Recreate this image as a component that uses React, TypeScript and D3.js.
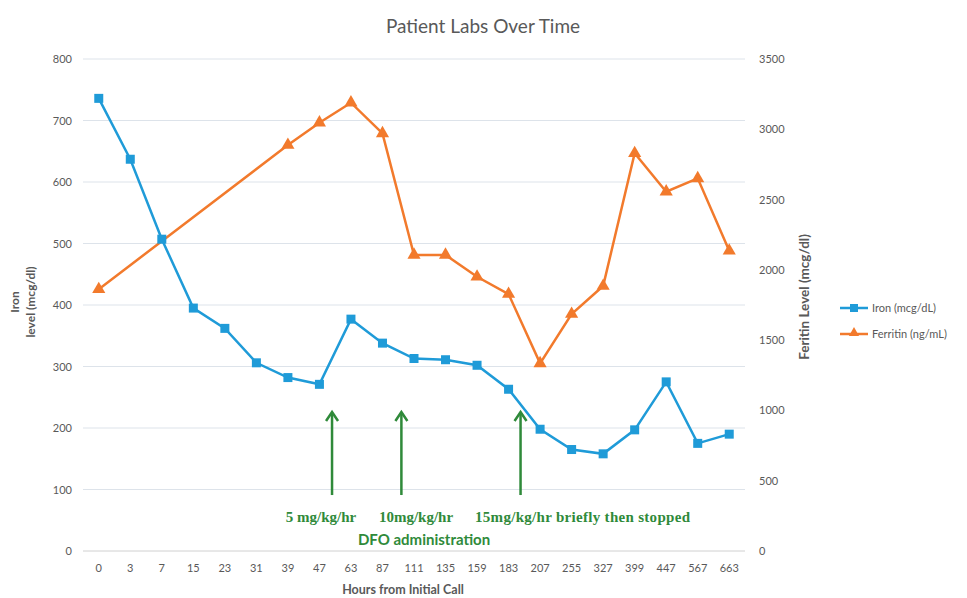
import React from "react";
import * as d3 from "d3";

const hours = ["0","3","7","15","23","31","39","47","63","87","111","135","159","183","207","255","327","399","447","567","663"];
const ironValues = [736,637,507,395,362,306,282,271,377,338,313,311,302,263,198,165,158,197,275,175,190];
const ferritinValues: (number | null)[] = [1862,null,null,null,null,null,2888,3047,3189,2971,2106,2106,1951,1828,1335,1686,1885,2829,2556,2651,2136];
const leftTicks = [0,100,200,300,400,500,600,700,800];
const rightTicks = [0,500,1000,1500,2000,2500,3000,3500];
const arrowIndex = [7.4, 9.6, 13.38];
const doseLabels = ["5 mg/kg/hr", "10mg/kg/hr", "15mg/kg/hr briefly then stopped"];

const W = 967, H = 598;
const M = { left: 83, right: 745, top: 59, bottom: 551 };
const FONT = "Lato, 'Open Sans', sans-serif";
const SERIF = "'Liberation Serif', serif";
const GRAY = "#595959";
const BLUE = "#1f9bd8";
const ORANGE = "#f27a2c";
const GREEN = "#2f8a3a";

export default function App() {
  const x = d3.scaleBand<string>().domain(hours).range([M.left, M.right]);
  const cx = (i: number) => (x(hours[0]) as number) + x.bandwidth() * (i + 0.5);
  const yL = d3.scaleLinear().domain([0, 800]).range([M.bottom, M.top]);
  const yR = d3.scaleLinear().domain([0, 3500]).range([M.bottom, M.top]);

  const ironLine = d3.line<number>().x((_, i) => cx(i)).y((d) => yL(d))(ironValues) || "";
  const ferPts = ferritinValues.map((v, i) => [i, v] as [number, number | null]).filter((p) => p[1] !== null) as [number, number][];
  const ferLine = d3.line<[number, number]>().x((p) => cx(p[0])).y((p) => yR(p[1]))(ferPts) || "";
  const tri = d3.symbol().type(d3.symbolTriangle).size(75)() || "";

  const arrowTop = yL(226);
  const arrowBot = yL(91);

  return (
    <svg width={W} height={H} style={{ position: "absolute", left: 0, top: 0, background: "#fff" }} fontFamily={FONT}>
      <text x={483} y={33} textAnchor="middle" fontSize={19} fill={GRAY}>Patient Labs Over Time</text>
      {leftTicks.map((t) => (
        <g key={"g" + t}>
          <line x1={M.left} x2={M.right} y1={yL(t)} y2={yL(t)} stroke={t === 0 ? "#d0d0d0" : "#dde3ea"} strokeWidth={1} />
          <text x={72} y={yL(t) + 4} textAnchor="end" fontSize={11} fill={GRAY}>{t}</text>
        </g>
      ))}
      {rightTicks.map((t) => (
        <text key={"r" + t} x={759} y={yR(t) + 4} textAnchor="start" fontSize={11} fill={GRAY}>{t}</text>
      ))}
      {hours.map((h, i) => (
        <text key={"x" + h} x={cx(i)} y={572} textAnchor="middle" fontSize={11} fill={GRAY}>{h}</text>
      ))}
      <text x={403} y={594} textAnchor="middle" fontSize={12.5} fontWeight="bold" fill={GRAY}>Hours from Initial Call</text>
      <g transform="translate(19,302) rotate(-90)">
        <text x={0} y={0} textAnchor="middle" fontSize={12} fontWeight="bold" fill={GRAY}>Iron</text>
        <text x={0} y={16} textAnchor="middle" fontSize={12} fontWeight="bold" fill={GRAY}>level (mcg/dl)</text>
      </g>
      <text transform="translate(809,297) rotate(-90)" textAnchor="middle" fontSize={13.5} fontWeight="bold" fill={GRAY}>Feritin Level (mcg/dl)</text>

      <path d={ferLine} fill="none" stroke={ORANGE} strokeWidth={2.5} />
      {ferPts.map((p) => (
        <path key={"f" + p[0]} d={tri} transform={`translate(${cx(p[0])},${yR(p[1])})`} fill={ORANGE} />
      ))}
      <path d={ironLine} fill="none" stroke={BLUE} strokeWidth={2.5} />
      {ironValues.map((v, i) => (
        <rect key={"i" + i} x={cx(i) - 4.5} y={yL(v) - 4.5} width={9} height={9} fill={BLUE} />
      ))}

      {arrowIndex.map((ai, k) => {
        const ax = cx(ai);
        return (
          <g key={"a" + k} stroke={GREEN} strokeWidth={2.5} fill="none">
            <line x1={ax} x2={ax} y1={arrowBot} y2={arrowTop + 1} />
            <polyline points={`${ax - 6},${arrowTop + 9} ${ax},${arrowTop} ${ax + 6},${arrowTop + 9}`} />
          </g>
        );
      })}
      <text x={321} y={522} textAnchor="middle" fontSize={15} fontWeight="bold" fill={GREEN} fontFamily={SERIF}>{doseLabels[0]}</text>
      <text x={416} y={522} textAnchor="middle" fontSize={15} fontWeight="bold" fill={GREEN} fontFamily={SERIF}>{doseLabels[1]}</text>
      <text x={475} y={522} textAnchor="start" fontSize={15} fontWeight="bold" fill={GREEN} fontFamily={SERIF} textLength={215}>{doseLabels[2]}</text>
      <text x={424} y={545} textAnchor="middle" fontSize={15} fontWeight="bold" fill={GREEN}>DFO administration</text>

      <line x1={840} x2={868} y1={308} y2={308} stroke={BLUE} strokeWidth={2.5} />
      <rect x={850} y={304} width={8} height={8} fill={BLUE} />
      <text x={872} y={312} fontSize={11} fill={GRAY}>Iron (mcg/dL)</text>
      <line x1={840} x2={868} y1={334} y2={334} stroke={ORANGE} strokeWidth={2.5} />
      <path d={d3.symbol().type(d3.symbolTriangle).size(45)() || ""} transform="translate(854,333)" fill={ORANGE} />
      <text x={872} y={338} fontSize={11} fill={GRAY}>Ferritin (ng/mL)</text>
    </svg>
  );
}
